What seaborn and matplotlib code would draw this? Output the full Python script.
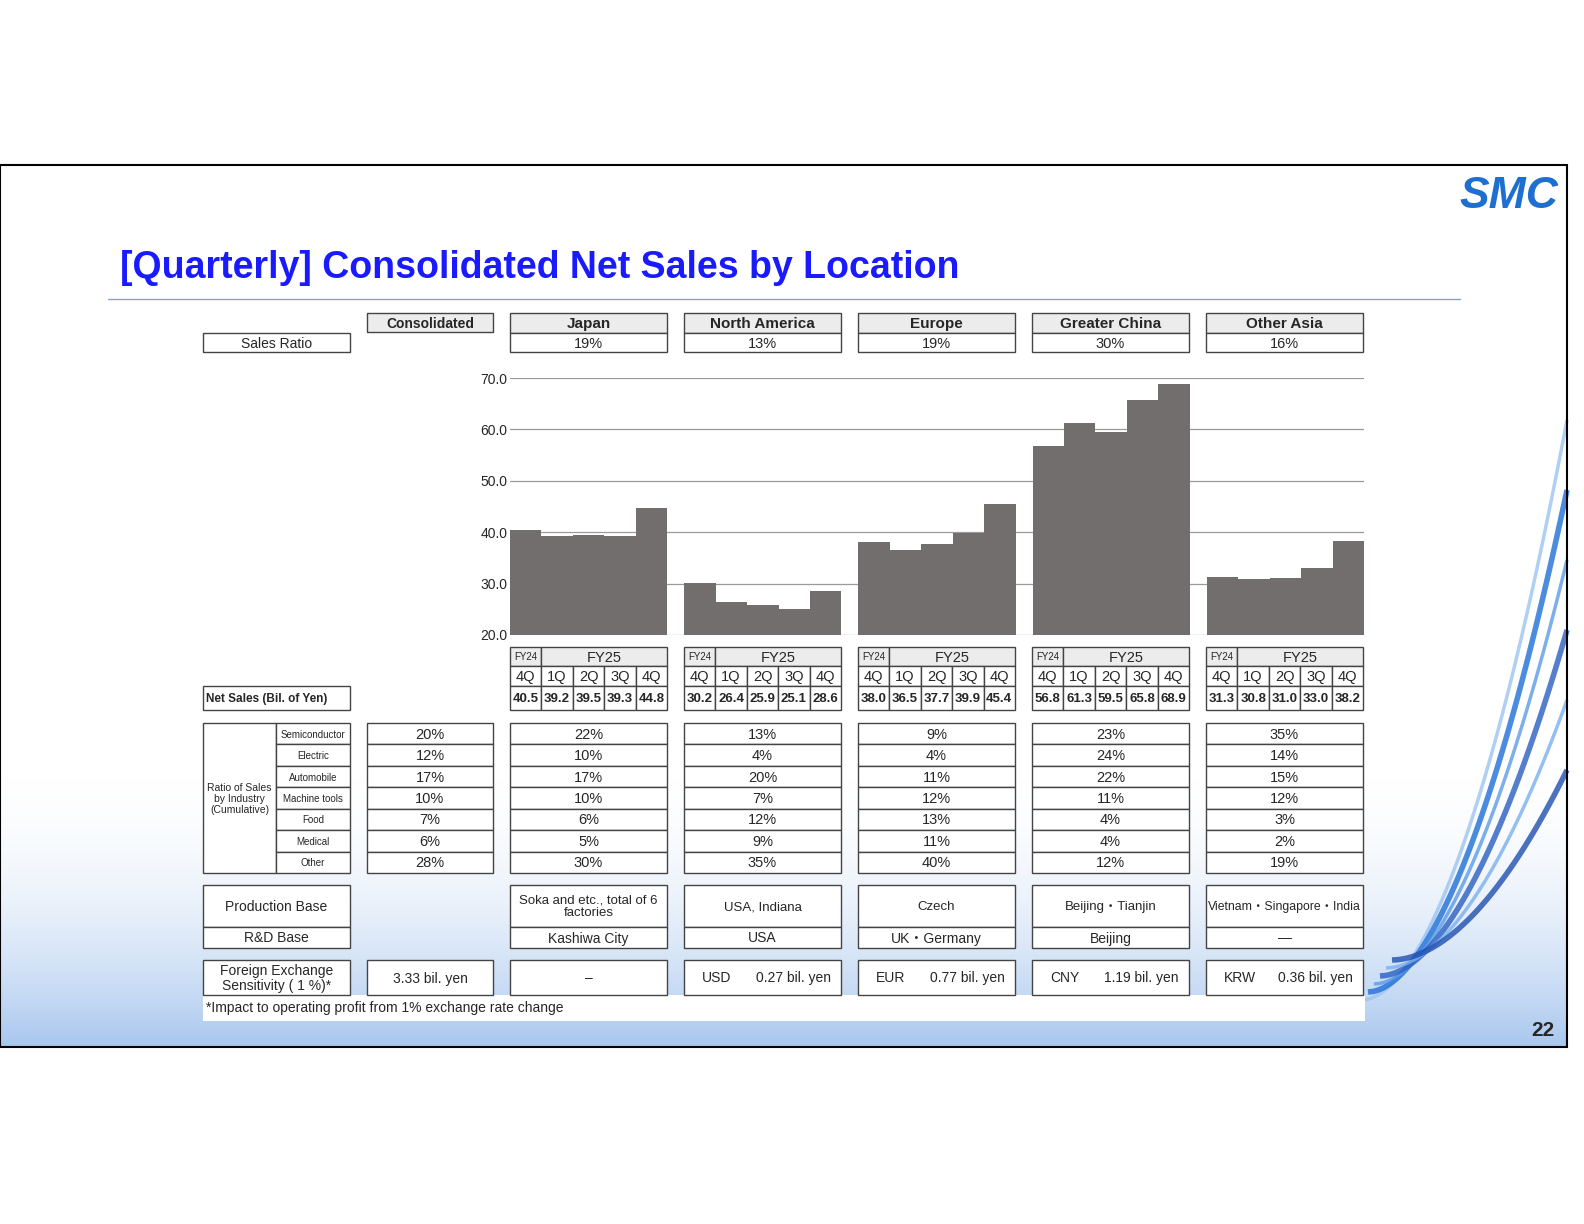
import numpy as np
import pandas as pd
import matplotlib
matplotlib.use("Agg")
import matplotlib.pyplot as plt
from matplotlib.patches import Rectangle
import seaborn as sns

# ==============================================================================
# data
regions = ["Japan", "North America", "Europe", "Greater China", "Other Asia"]
sales_ratio = ["19%", "13%", "19%", "30%", "16%"]
quarters = ["4Q", "1Q", "2Q", "3Q", "4Q"]
japan = [40.5, 39.2, 39.5, 39.3, 44.8]
north_america = [30.2, 26.4, 25.9, 25.1, 28.6]
europe = [38.0, 36.5, 37.7, 39.9, 45.4]
greater_china = [56.8, 61.3, 59.5, 65.8, 68.9]
other_asia = [31.3, 30.8, 31.0, 33.0, 38.2]
yticks = [20, 30, 40, 50, 60, 70]

industries = ["Semiconductor", "Electric", "Automobile", "Machine tools", "Food", "Medical", "Other"]
ind_consolidated = ["20%", "12%", "17%", "10%", "7%", "6%", "28%"]
ind_japan = ["22%", "10%", "17%", "10%", "6%", "5%", "30%"]
ind_na = ["13%", "4%", "20%", "7%", "12%", "9%", "35%"]
ind_europe = ["9%", "4%", "11%", "12%", "13%", "11%", "40%"]
ind_china = ["23%", "24%", "22%", "11%", "4%", "4%", "12%"]
ind_asia = ["35%", "14%", "15%", "12%", "3%", "2%", "19%"]

production = ["Soka and etc., total of 6\nfactories", "USA, Indiana", "Czech",
              "Beijing・Tianjin", "Vietnam・Singapore・India"]
rnd = ["Kashiwa City", "USA", "UK・Germany", "Beijing", "―"]
fx_cur = ["", "USD", "EUR", "CNY", "KRW"]
fx_val = ["–", "0.27 bil. yen", "0.77 bil. yen", "1.19 bil. yen", "0.36 bil. yen"]

# ==============================================================================
sns.set_theme(style="white")
plt.rcParams["font.family"] = ["Liberation Sans", "Noto Sans CJK JP", "DejaVu Sans"]

W, H = 1584, 1224
fig = plt.figure(figsize=(15.84, 12.24), dpi=100)

# ========== overlay axes in pixel coords ==========
ov = fig.add_axes([0, 0, 1, 1], zorder=1)
ov.set_xlim(0, W)
ov.set_ylim(H, 0)
ov.axis("off")
ov.patch.set_alpha(0)

# background gradient of the slide
grad = np.linspace(0, 1, 200)[:, None] ** 2
cmap = matplotlib.colors.LinearSegmentedColormap.from_list("bg", ["#ffffff", "#a9c7ee"])
bg = fig.add_axes([0, 0, 1, 1], zorder=0)
bg.set_xlim(0, W); bg.set_ylim(H, 0); bg.axis("off")
bg.imshow(grad, extent=(0, 1567, 1047, 760), cmap=cmap, aspect="auto", zorder=0)
bg.add_patch(Rectangle((0, 165), 1567, 882, fill=False, lw=1.5, ec="black", zorder=3))
# swirl on the right
t = np.linspace(0, 1, 120)
for k, c in enumerate(["#9cc4f2", "#1f6fd6", "#5b9be8", "#2a5fc0", "#7ab0ee", "#1f4fb0"]):
    xa = 1362 + k * 6
    ya = 1000 - k * 8
    ye = 420 + k * 70
    xs = xa + (1567 - xa) * t ** 0.75
    ys = ya - (ya - ye) * t ** 1.4
    bg.plot(xs, ys, color=c, lw=4 if k % 2 else 2.5, alpha=0.8, solid_capstyle="butt")

# ========== bar chart ==========
series = [japan, north_america, europe, greater_china, other_asia]
rows = []
for g, (reg, vals) in enumerate(zip(regions, series)):
    for q, v in enumerate(vals):
        rows.append({"pos": g * 5.54 + q, "region": reg, "sales": v})
df = pd.DataFrame(rows)

x0, x1, ytop, ybot = 510, 1364, 378, 635
ax = fig.add_axes([x0 / W, 1 - ybot / H, (x1 - x0) / W, (ybot - ytop) / H], zorder=0.5)
ax.patch.set_alpha(0)
for yv in yticks:
    ax.axhline(yv, color="#9a9a9a", lw=0.9, zorder=0)
sns.barplot(data=df, x="pos", y="sales", native_scale=True, width=1.0,
            color="#736e6e", saturation=1, edgecolor="none", ax=ax, zorder=2)
ax.set_xlim(-0.5, 4 * 5.54 + 4.5)
ax.set_ylim(20, 70)
ax.set_yticks(yticks)
ax.set_yticklabels([f"{v:.1f}" for v in yticks], fontsize=10)
ax.tick_params(axis="y", length=0, pad=2)
ax.set_xticks([])
ax.set_xlabel("")
ax.set_ylabel("")
sns.despine(ax=ax, left=True, bottom=True)


def cell(xa, ya, xb, yb, text="", fs=10, bold=False, fc="white", ha="center", lw=1.0, tx=None):
    ov.add_patch(Rectangle((xa, ya), xb - xa, yb - ya, fc=fc, ec="#444444", lw=lw, zorder=2))
    if text:
        xt = (xa + xb) / 2 if tx is None else tx
        ov.text(xt, (ya + yb) / 2 + 1, text, fontsize=fs, ha=ha, va="center",
                fontweight="bold" if bold else "normal", zorder=3, linespacing=1.1)


# title
ov.text(120, 268, "[Quarterly] Consolidated Net Sales by Location", fontsize=27,
        fontweight="bold", color="#1a1aff", va="center")
ov.plot([108, 1460], [299, 299], color="#7aa7e0", lw=1)
ov.text(1558, 197, "SMC", fontsize=32, fontweight="bold", fontstyle="italic",
        color="#1e6fd0", ha="right", va="center")
ov.text(1555, 1031, "22", fontsize=15, fontweight="bold", ha="right", va="center")

gx = [510 + g * 174 for g in range(5)]
gw = 157
bw = gw / 5

# header
cell(367, 313, 493, 332, "Consolidated", fs=10, bold=True, fc="#ececec")
cell(203, 333, 350, 352, "Sales Ratio", fs=10)
for g in range(5):
    cell(gx[g], 313, gx[g] + gw, 333, regions[g], fs=11, bold=True, fc="#ececec")
    cell(gx[g], 333, gx[g] + gw, 352, sales_ratio[g], fs=10.5)

# quarters table
cell(203, 686, 350, 710, "Net Sales (Bil. of Yen)", fs=8.5, bold=True, ha="left", tx=206)
for g in range(5):
    cell(gx[g], 647, gx[g] + bw, 666, "FY24", fs=7, fc="#ececec")
    cell(gx[g] + bw, 647, gx[g] + gw, 666, "FY25", fs=10.5, fc="#ececec")
    for q in range(5):
        xa = gx[g] + q * bw
        cell(xa, 666, xa + bw, 686, quarters[q], fs=10.5)
        cell(xa, 686, xa + bw, 710, f"{series[g][q]:.1f}", fs=9.5, bold=True)

# industry table
rh = (873 - 723) / 7
cell(203, 723, 276, 873, "Ratio of Sales\nby Industry\n(Cumulative)", fs=7.5)
ind_cols = [ind_japan, ind_na, ind_europe, ind_china, ind_asia]
for i, name in enumerate(industries):
    ya, yb = 723 + i * rh, 723 + (i + 1) * rh
    cell(276, ya, 350, yb, name, fs=7)
    cell(367, ya, 493, yb, ind_consolidated[i], fs=10.5)
    for g in range(5):
        cell(gx[g], ya, gx[g] + gw, yb, ind_cols[g][i], fs=10.5)

# production / R&D
cell(203, 885, 350, 927, "Production Base", fs=10)
cell(203, 927, 350, 948, "R&D Base", fs=10)
for g in range(5):
    cell(gx[g], 885, gx[g] + gw, 927, production[g], fs=9.5 if g < 4 else 8.8)
    cell(gx[g], 927, gx[g] + gw, 948, rnd[g], fs=10)

# FX
ov.add_patch(Rectangle((203, 995), 1162, 26, fc="white", ec="none", zorder=1))
cell(203, 960, 350, 995, "Foreign Exchange\nSensitivity ( 1 %)*", fs=10)
cell(367, 960, 493, 995, "3.33 bil. yen", fs=10)
for g in range(5):
    cell(gx[g], 960, gx[g] + gw, 995, "" if g else fx_val[g], fs=10)
    if g:
        ov.text(gx[g] + 18, 978, fx_cur[g], fontsize=10, va="center", zorder=3)
        ov.text(gx[g] + gw - 10, 978, fx_val[g], fontsize=10, va="center", ha="right", zorder=3)
ov.text(206, 1008, "*Impact to operating profit from 1% exchange rate change", fontsize=10,
        va="center", zorder=3)

fig.savefig("out.png", dpi=100)
